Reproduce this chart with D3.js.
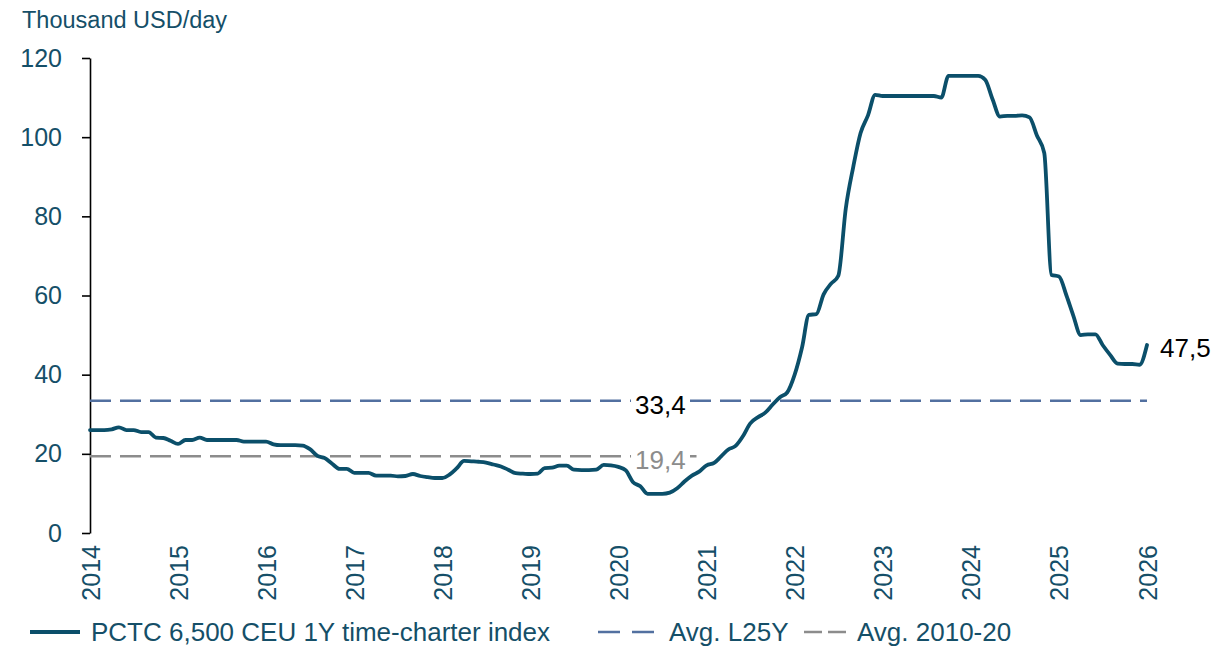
<!DOCTYPE html>
<html>
<head>
<meta charset="utf-8">
<script src="https://cdn.jsdelivr.net/npm/d3@7"></script>
<style>
  body { margin: 0; background: #fff; }
  text { font-family: "Liberation Sans", Arial, sans-serif; }
</style>
</head>
<body>
<div id="chart"></div>
<script>
// monthly index, Jan 2014 .. Jan 2026 (thousand USD/day)
var startMonth = new Date(2014, 0, 1);
var endMonth = new Date(2026, 0, 1);
var indexValues = [
    26.0, 26.0, 26.0, 26.2, 26.7, 26.0, 26.0, 25.5, 25.5, 24.1, 24.0, 23.3,
    22.5, 23.5, 23.5, 24.1, 23.5, 23.5, 23.5, 23.5, 23.5, 23.1, 23.1, 23.1,
    23.1, 22.4, 22.2, 22.2, 22.2, 22.1, 21.2, 19.5, 18.9, 17.5, 16.2, 16.2,
    15.2, 15.2, 15.2, 14.5, 14.5, 14.5, 14.3, 14.4, 14.9, 14.4, 14.1, 13.9,
    13.9, 14.8, 16.3, 18.2, 18.1, 18.0, 17.8, 17.3, 16.8, 16.0, 15.1, 15.0,
    14.9, 15.0, 16.4, 16.5, 17.0, 17.0, 16.0, 15.9, 15.9, 16.0, 17.2, 17.1,
    16.7, 15.8, 12.9, 11.8, 9.9, 9.9, 9.9, 10.2, 11.3, 13.0, 14.5, 15.5,
    17.1, 17.7, 19.3, 21.1, 22.0, 24.5, 27.7, 29.2, 30.4, 32.4, 34.3, 35.5,
    40.0, 47.0, 55.1, 55.3, 60.3, 63.0, 65.0, 82.0, 92.5, 101.0, 105.5, 110.7,
    110.4, 110.4, 110.4, 110.4, 110.4, 110.4, 110.4, 110.4, 110.0, 115.5, 115.5, 115.5,
    115.5, 115.5, 114.5, 109.5, 105.2, 105.4, 105.4, 105.5, 105.0, 100.5, 96.0, 65.2,
    64.8, 60.0, 55.0, 50.0, 50.2, 50.2, 47.5, 45.0, 42.8, 42.7, 42.7, 42.5,
    47.5
];
var avgL25Y = 33.4;
var avg2010to20 = 19.4;
var avg2010to20End = new Date(2020, 10, 20);
var yTicks = [0, 20, 40, 60, 80, 100, 120];
var legendNames = ["PCTC 6,500 CEU 1Y time-charter index", "Avg. L25Y", "Avg. 2010-20"];

var svgWidth = 1226;
var svgHeight = 646;

var margin = {
    top: 58,
    bottom: 113,
    left: 90,
    right: 79
};

var chartWidth = svgWidth - margin.left - margin.right;
var chartHeight = svgHeight - margin.top - margin.bottom;

var teal = "#0b4f6a";
var textTeal = "#154f68";
var blue = "#5270a0";
var grey = "#8c8c8c";

var svg = d3.select("#chart")
    .append("svg")
    .attr("width", svgWidth)
    .attr("height", svgHeight)
    .style("background", "#fff");

var chartGroup = svg.append("g")
    .attr("transform", `translate(${margin.left}, ${margin.top})`);

var months = d3.timeMonth.range(startMonth, d3.timeMonth.offset(endMonth, 1));
var lineData = months.map((m, i) => ({ date: m, value: indexValues[i] }));

var xTimeScale = d3.scaleTime()
    .domain([startMonth, endMonth])
    .range([0, chartWidth]);
var yLinearScale = d3.scaleLinear()
    .domain([0, 120])
    .range([chartHeight, 0]);

// y axis
var leftAxis = d3.axisLeft(yLinearScale)
    .tickValues(yTicks)
    .tickSize(8)
    .tickSizeOuter(0)
    .tickPadding(20);
var yAxis = chartGroup.append("g").call(leftAxis);
yAxis.select(".domain").attr("stroke", "#000").attr("stroke-width", 1.6);
yAxis.selectAll(".tick line").attr("stroke", "#000").attr("stroke-width", 1.6);
yAxis.selectAll(".tick text")
    .attr("fill", textTeal)
    .style("font-size", "25px");

// x axis, rotated year labels
var bottomAxis = d3.axisBottom(xTimeScale)
    .ticks(d3.timeYear.every(1))
    .tickFormat(d3.timeFormat("%Y"))
    .tickSize(0);
var xAxis = chartGroup.append("g")
    .attr("transform", `translate(0, ${chartHeight})`)
    .call(bottomAxis);
xAxis.select(".domain").remove();
xAxis.selectAll(".tick text")
    .attr("transform", "rotate(-90)")
    .attr("x", -12)
    .attr("y", 0)
    .attr("dy", "0.36em")
    .attr("text-anchor", "end")
    .attr("fill", textTeal)
    .style("font-size", "25px");

// average lines
chartGroup.append("line")
    .attr("x1", 0)
    .attr("x2", xTimeScale(endMonth))
    .attr("y1", yLinearScale(avgL25Y))
    .attr("y2", yLinearScale(avgL25Y))
    .attr("stroke", blue)
    .attr("stroke-width", 2.5)
    .attr("stroke-dasharray", "21,9");
chartGroup.append("line")
    .attr("x1", 0)
    .attr("x2", xTimeScale(avg2010to20End))
    .attr("y1", yLinearScale(avg2010to20))
    .attr("y2", yLinearScale(avg2010to20))
    .attr("stroke", grey)
    .attr("stroke-width", 2.5)
    .attr("stroke-dasharray", "21,9");

// main line
var line = d3.line()
    .x(d => xTimeScale(d.date))
    .y(d => yLinearScale(d.value))
    .curve(d3.curveMonotoneX);
chartGroup.append("path")
    .datum(lineData)
    .attr("d", line)
    .attr("fill", "none")
    .attr("stroke", teal)
    .attr("stroke-width", 3.8)
    .attr("stroke-linejoin", "round")
    .attr("stroke-linecap", "round");

// value labels
function valueLabel(text, x, y, color, boxed) {
    var g = chartGroup.append("g");
    var t = g.append("text")
        .attr("x", x)
        .attr("y", y)
        .attr("dy", "0.35em")
        .attr("fill", color)
        .style("font-size", "26px")
        .text(text);
    if (boxed) {
        var bb = t.node().getBBox();
        g.insert("rect", "text")
            .attr("x", bb.x - 4)
            .attr("y", bb.y + 3)
            .attr("width", bb.width + 6)
            .attr("height", bb.height - 6)
            .attr("fill", "#fff");
    }
}
var labelX = xTimeScale(new Date(2020, 2, 10));
valueLabel(avgL25Y.toFixed(1).replace(".", ","), labelX, yLinearScale(avgL25Y) + 4, "#000", true);
valueLabel(avg2010to20.toFixed(1).replace(".", ","), labelX, yLinearScale(avg2010to20) + 4, grey, true);
var lastPoint = lineData[lineData.length - 1];
valueLabel(lastPoint.value.toFixed(1).replace(".", ","), xTimeScale(lastPoint.date) + 13, yLinearScale(lastPoint.value) + 3, "#000", false);

// y title
svg.append("text")
    .attr("x", 22)
    .attr("y", 28)
    .attr("fill", textTeal)
    .style("font-size", "23.5px")
    .text("Thousand USD/day");

// legend
var legendY = 632;
var legendItems = [
    { name: legendNames[0], x: 30, w: 50, color: teal, dash: null, width: 3.8 },
    { name: legendNames[1], x: 598, w: 60, color: blue, dash: "22,12", width: 2.5 },
    { name: legendNames[2], x: 804, w: 42, color: grey, dash: "18,6", width: 2.5 }
];
var legend = svg.append("g");
legendItems.forEach(item => {
    legend.append("line")
        .attr("x1", item.x)
        .attr("x2", item.x + item.w)
        .attr("y1", legendY)
        .attr("y2", legendY)
        .attr("stroke", item.color)
        .attr("stroke-width", item.width)
        .attr("stroke-dasharray", item.dash);
    legend.append("text")
        .attr("x", item.x + item.w + 11)
        .attr("y", legendY)
        .attr("dy", "0.35em")
        .attr("fill", textTeal)
        .style("font-size", "26px")
        .text(item.name);
});
</script>
</body>
</html>
